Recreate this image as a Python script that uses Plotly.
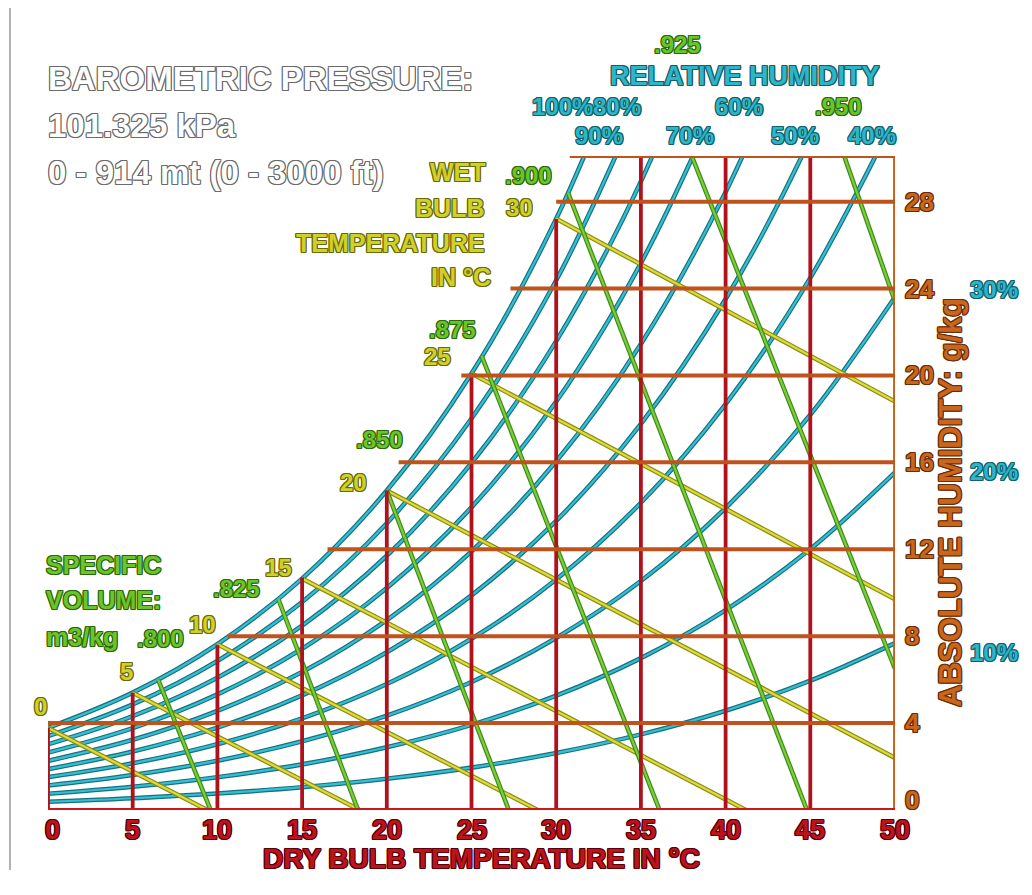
import plotly.graph_objects as go

# ---------------- data ----------------
temps = [0, 5, 10, 15, 20, 25, 30, 35, 40, 45, 50]
rh_labels = ["100%", "90%", "80%", "70%", "60%", "50%", "40%", "30%", "20%", "10%"]
rh_100 = [3.78, 5.40, 7.63, 10.65, 14.70, 20.09, 27.21, 36.58]
rh_90 = [3.40, 4.86, 6.86, 9.57, 13.20, 18.02, 24.38, 32.73]
rh_80 = [3.02, 4.32, 6.09, 8.49, 11.70, 15.97, 21.58, 28.93, 38.51]
rh_70 = [2.64, 3.77, 5.32, 7.42, 10.22, 13.93, 18.80, 25.17, 33.44]
rh_60 = [2.26, 3.23, 4.56, 6.35, 8.74, 11.90, 16.05, 21.45, 28.44, 37.47]
rh_50 = [1.88, 2.69, 3.79, 5.28, 7.26, 9.88, 13.31, 17.77, 23.52, 30.91, 40.37]
rh_40 = [1.51, 2.15, 3.03, 4.22, 5.80, 7.88, 10.61, 14.14, 18.68, 24.49, 31.88]
rh_30 = [1.13, 1.61, 2.27, 3.16, 4.34, 5.89, 7.92, 10.54, 13.90, 18.19, 23.61]
rh_20 = [0.75, 1.07, 1.51, 2.10, 2.89, 3.92, 5.26, 6.99, 9.20, 12.01, 15.54]
rh_10 = [0.38, 0.54, 0.76, 1.05, 1.44, 1.95, 2.62, 3.48, 4.57, 5.95, 7.68]
rh_curves = [rh_100, rh_90, rh_80, rh_70, rh_60, rh_50, rh_40, rh_30, rh_20, rh_10]

# wet bulb lines (start on saturation, end at w=0 or right edge)
wb_labels = ["0", "5", "10", "15", "20", "25", "30"]
wb_T_start = [0, 5, 10, 15, 20, 25, 30]
wb_w_start = [3.78, 5.40, 7.63, 10.65, 14.70, 20.09, 27.21]
wb_T_end = [9.4, 18.4, 28.9, 41.2, 50, 50, 50]
wb_w_end = [0, 0, 0, 0, 2.4, 9.7, 18.8]

# specific volume lines
sv_labels = [".800", ".825", ".850", ".875", ".900", ".925", ".950"]
sv_T_low = [9.6, 18.3, 27.2, 36.1, 44.8, 50, 50]
sv_w_low = [0, 0, 0, 0, 0, 6.5, 23.4]
sv_T_high = [6.5, 13.6, 20.0, 25.6, 30.7, 38.0, 47.0]
sv_w_high = [6.0, 9.7, 14.7, 20.9, 28.4, 30.1, 30.1]

# grid
x_ticks = [0, 5, 10, 15, 20, 25, 30, 35, 40, 45, 50]
v_top = [3.8, 5.4, 7.6, 10.7, 14.7, 20.1, 27.2, 30.1, 30.1, 30.1, 30.1]
h_levels = [0, 4, 8, 12, 16, 20, 24, 28, 30.1]
h_start = [0, 0, 10.6, 16.5, 20.7, 24.4, 27.3, 30.0, 30.8]
y_tick_labels = ["0", "4", "8", "12", "16", "20", "24", "28"]

W_MAX = 30.1

# ---------------- figure ----------------
fig = go.Figure()

def add_line(x, y, edge, core, we=4.6, wc=2.2, shape="linear"):
    fig.add_trace(go.Scatter(x=x, y=y, mode="lines", line=dict(color=edge, width=we, shape=shape),
                             hoverinfo="skip", showlegend=False))
    fig.add_trace(go.Scatter(x=x, y=y, mode="lines", line=dict(color=core, width=wc, shape=shape),
                             hoverinfo="skip", showlegend=False))

# RH curves
for w in rh_curves:
    add_line(temps[:len(w)], w, "#17707f", "#34c0d2", shape="spline")

# wet bulb
for i in range(len(wb_labels)):
    add_line([wb_T_start[i], wb_T_end[i]], [wb_w_start[i], wb_w_end[i]], "#8c8c12", "#dcdc3c")

# specific volume
for i in range(len(sv_labels)):
    add_line([sv_T_low[i], sv_T_high[i]], [sv_w_low[i], sv_w_high[i]], "#3c8c18", "#7ccc3c")

# grid: vertical
for t, top in zip(x_ticks, v_top):
    col = "#c0601a" if t == 50 else "#b0121c"
    fig.add_trace(go.Scatter(x=[t, t], y=[0, top], mode="lines", line=dict(color=col, width=3.8),
                             hoverinfo="skip", showlegend=False))
# grid: horizontal
for lv, st in zip(h_levels, h_start):
    col = "#c8181c" if lv == 0 else "#c0521c"
    fig.add_trace(go.Scatter(x=[st, 50], y=[lv, lv], mode="lines", line=dict(color=col, width=4),
                             hoverinfo="skip", showlegend=False))

# ---------------- text ----------------
OFF = 8  # page body margin
FIG_W, FIG_H = 1032 - OFF, 895 - OFF
PX0, PX1, PY0, PY1 = 48 - OFF, 895 - OFF, 156 - OFF, 810 - OFF

def px(x):
    return (x - OFF - PX0) / (PX1 - PX0)

def py(y):
    return (PY1 - (y - OFF)) / (PY1 - PY0)

def outline(c, d=1):
    return f"{d}px 0 0 {c}, -{d}px 0 0 {c}, 0 {d}px 0 {c}, 0 -{d}px 0 {c}, {d}px {d}px 0 {c}, -{d}px -{d}px 0 {c}, {d}px -{d}px 0 {c}, -{d}px {d}px 0 {c}"

FONT = "Liberation Sans"
TEAL = ("#2fb6c6", "#12606e")
OLIVE = ("#d0d02a", "#6a6a0a")
GREEN = ("#6cc42c", "#2a6a0a")
RED = ("#bc141c", "#5a0008")
BROWN = ("#c8661e", "#6a2c08")
GRAY = ("#ffffff", "#6a6a6a")

def label(text, x, y, colors, size, anchor="center", angle=0):
    fill, edge = colors
    fig.add_annotation(text=f"<b>{text}</b>", x=px(x), y=py(y), xref="paper", yref="paper",
                       xanchor=anchor, yanchor="middle", showarrow=False, textangle=angle,
                       font=dict(family=FONT, size=size, color=fill, shadow=outline(edge)))

# header
label("BAROMETRIC PRESSURE:", 46, 78, GRAY, 33, "left")
label("101.325 kPa", 46, 125, GRAY, 33, "left")
label("0 - 914 mt (0 - 3000 ft)", 46, 172, GRAY, 33, "left")

# wet bulb title
label("WET", 488, 172, OLIVE, 25, "right")
label("BULB", 486, 208, OLIVE, 25, "right")
label("TEMPERATURE", 486, 243, OLIVE, 25, "right")
label("IN °C", 493, 277, OLIVE, 25, "right")

# relative humidity title & labels
label(sv_labels[5], 677, 44, GREEN, 24)
label("RELATIVE HUMIDITY", 745, 76, TEAL, 27)
top_rh_pos = {"100%": (562, 106), "80%": (617, 106), "60%": (739, 106),
              "90%": (599, 135), "70%": (690, 135), "50%": (795, 135), "40%": (872, 135)}
for k, (x, y) in top_rh_pos.items():
    label(k, x, y, TEAL, 24)
label(sv_labels[6], 838, 106, GREEN, 24)
side_rh_pos = {"30%": (994, 289), "20%": (994, 472), "10%": (994, 652)}
for k, (x, y) in side_rh_pos.items():
    label(k, x, y, TEAL, 24)

# specific volume title and labels
label("SPECIFIC", 44, 565, GREEN, 25, "left")
label("VOLUME:", 44, 600, GREEN, 25, "left")
label("m3/kg", 44, 637, GREEN, 25, "left")
sv_pos = [(160, 638), (236, 588), (379, 439), (452, 329), (528, 176)]
for t, (x, y) in zip(sv_labels[:5], sv_pos):
    label(t, x, y, GREEN, 24)

# wet bulb labels
wb_pos = [(40, 706), (126, 671), (202, 624), (278, 567), (353, 482), (437, 356), (519, 207)]
for t, (x, y) in zip(wb_labels, wb_pos):
    label(t, x, y, OLIVE, 24)

# x tick labels
for t in x_ticks:
    xx = 48 + (895 - 48) * t / 50
    if t == 0:
        xx += 4
    label(str(t), xx, 830, RED, 27)
label("DRY BULB TEMPERATURE IN °C", 482, 858, RED, 28)

# y tick labels (right)
for t, lv in zip(y_tick_labels, h_levels[:8]):
    yy = 810 - (810 - 156) * lv / W_MAX
    if lv == 0:
        yy -= 10
    label(t, 903, yy, BROWN, 26, "left")
label("ABSOLUTE HUMIDITY: g/kg", 950, 502, BROWN, 31, "center", -90)

# page border line on the left
fig.add_shape(type="line", xref="paper", yref="paper", x0=px(10), x1=px(10), y0=py(0), y1=py(870),
              line=dict(color="#9a9a9a", width=1.5))

fig.update_layout(
    width=FIG_W, height=FIG_H,
    margin=dict(l=PX0, r=FIG_W - PX1, t=PY0, b=FIG_H - PY1),
    paper_bgcolor="white", plot_bgcolor="white",
    xaxis=dict(range=[0, 50], visible=False, fixedrange=True),
    yaxis=dict(range=[0, W_MAX], visible=False, fixedrange=True),
    showlegend=False,
)

fig.write_html("out.html")
